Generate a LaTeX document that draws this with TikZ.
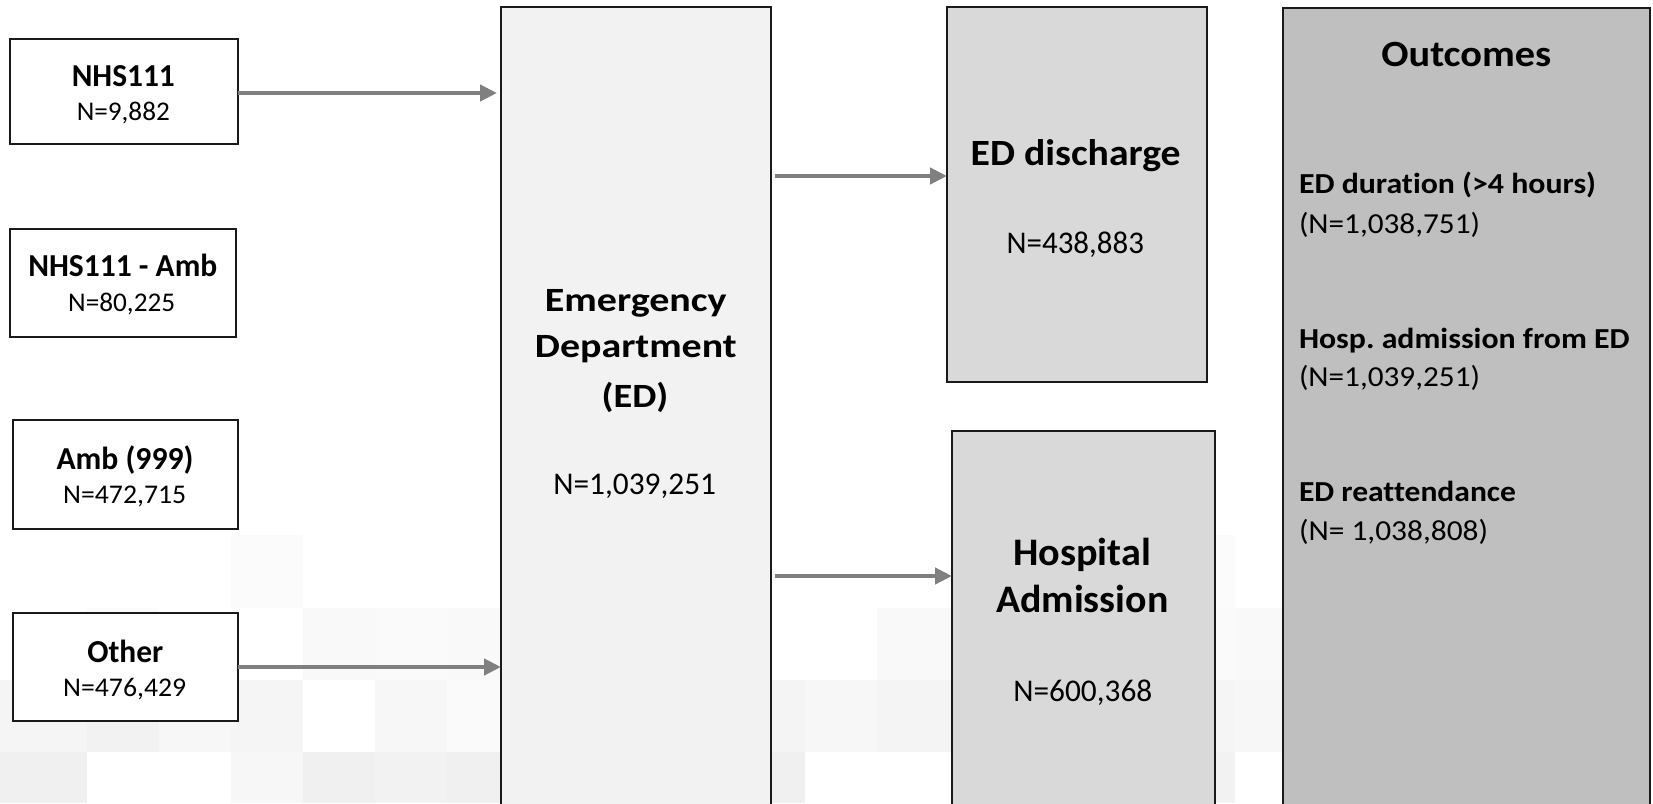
\documentclass[tikz,border=0pt]{standalone}
\usepackage{fontspec}
\setmainfont{Carlito}[Ligatures={NoCommon,NoRequired,NoContextual}]
\usepackage{graphicx}
\usetikzlibrary{arrows.meta}
\definecolor{edfill}{HTML}{F2F2F2}
\definecolor{midfill}{HTML}{D9D9D9}
\definecolor{outfill}{HTML}{BFBFBF}
\definecolor{arrgray}{HTML}{808080}
\definecolor{edgecol}{HTML}{1A1A1A}
\frenchspacing
\newcommand\txt[4]{\resizebox{#1pt}{\height}{\fontsize{#2}{#2}\selectfont #3#4}}
\tikzset{
  box/.style={draw=edgecol, line width=1.5pt, inner sep=0pt, outer sep=0pt, rectangle},
  lbl/.style={inner sep=0pt, outer sep=0pt, anchor=base},
  lbll/.style={inner sep=0pt, outer sep=0pt, anchor=base west},
  conn/.style={draw=arrgray, line width=4.8pt, -{Triangle[length=17pt,width=16pt]}},
}
\begin{document}
\begin{tikzpicture}[x=1pt,y=-1pt]
\useasboundingbox (0,0) rectangle (1653,803);
\clip (0,0) rectangle (1653,803);
\fill[white] (0,0) rectangle (1653,803);
% faint background squares
\foreach \xa/\xb/\ya/\yb/\s in {
  231/303/535/608/1.5, 1163/1235/535/608/1.5,
  87/159/608/680/1.5, 303/375/608/680/2.5, 375/447/608/680/2, 447/501/608/680/2.5,
  877/952/608/680/2.5, 1215/1235/608/680/2, 1235/1283/608/680/2.5,
  0/87/680/752/4, 87/159/680/752/5, 159/231/680/752/3, 231/303/680/752/4, 375/447/680/752/3, 447/501/680/752/2,
  771/805/680/752/4.5, 805/877/680/752/3, 877/952/680/752/4.5, 1215/1235/680/752/4, 1235/1283/680/752/3,
  0/87/752/803/6, 231/303/752/803/3, 303/375/752/803/6, 375/447/752/803/5, 447/501/752/803/6,
  771/805/752/803/6, 1215/1235/752/803/5}
  \fill[black!\s] (\xa,\ya) rectangle (\xb,\yb);

% boxes
\node[box, fill=white, minimum width=228pt, minimum height=105pt] (nhs) at (124,91.5) {};
\node[box, fill=white, minimum width=226pt, minimum height=108pt] (nhsamb) at (123,283) {};
\node[box, fill=white, minimum width=225pt, minimum height=109pt] (amb) at (125.5,474.5) {};
\node[box, fill=white, minimum width=225pt, minimum height=108pt] (oth) at (125.5,667) {};
\node[box, fill=edfill, minimum width=270pt, minimum height=813pt] (ed) at (636,413.5) {};
\node[box, fill=midfill, minimum width=260pt, minimum height=375pt] (dis) at (1077,194.5) {};
\node[box, fill=midfill, minimum width=263pt, minimum height=389pt] (hosp) at (1083.5,625.5) {};
\node[box, fill=outfill, minimum width=367pt, minimum height=812pt] (out) at (1466.5,414) {};

% connectors
\draw[conn, shorten >=4pt] (nhs.east |- 0,93) -- (ed.west |- 0,93);
\draw[conn] (oth.east |- 0,667) -- (ed.west |- 0,667);
\draw[conn] ([xshift=4pt]ed.east |- 0,176) -- (dis.west |- 0,176);
\draw[conn] ([xshift=4pt]ed.east |- 0,576) -- (hosp.west |- 0,576);

% left texts
\node[lbl] (t1a) at (123.3,86.7) {\txt{103}{32}{\bfseries}{NHS111}};
\node[lbl] (t1b) at (123.3,120) {\txt{93}{27}{}{N=9,882}};
\node[lbl] (t2a) at (122.8,276.7) {\txt{189}{32}{\bfseries}{NHS111 - Amb}};
\node[lbl] (t2b) at (121.7,311.7) {\txt{107}{27}{}{N=80,225}};
\node[lbl] (t3a) at (125,469) {\txt{137}{32}{\bfseries}{Amb (999)}};
\node[lbl] (t3b) at (124.7,503.3) {\txt{123}{27}{}{N=472,715}};
\node[lbl] (t4a) at (125.3,662) {\txt{76}{32}{\bfseries}{Other}};
\node[lbl] (t4b) at (124.7,696.7) {\txt{123}{27}{}{N=476,429}};

% ED texts
\node[lbl] (e1) at (635.8,311) {\txt{181.7}{34}{\bfseries}{Emergency}};
\node[lbl] (e2) at (635.8,357.8) {\txt{201.7}{34}{\bfseries}{Department}};
\node[lbl] (e3) at (635,407.8) {\txt{66.7}{34}{\bfseries}{(ED)}};
\node[lbl] (e4) at (634.7,494.5) {\txt{162.7}{31.6}{}{N=1,039,251}};

% discharge / admission texts
\node[lbl] (d1) at (1075.7,165) {\txt{210}{37}{\bfseries}{ED discharge}};
\node[lbl] (d2) at (1075.3,253.3) {\txt{137.3}{31.6}{}{N=438,883}};
\node[lbl] (h1) at (1082.2,565) {\txt{137.7}{39}{\bfseries}{Hospital}};
\node[lbl] (h2) at (1082.2,612.7) {\txt{172.3}{39}{\bfseries}{Admission}};
\node[lbl] (h3) at (1082.8,701.7) {\txt{139}{31.6}{}{N=600,368}};

% outcomes texts
\node[lbl] (o0) at (1466.3,66.7) {\txt{170}{37}{\bfseries}{Outcomes}};
\node[lbll] (o1) at (1299,193.3) {\txt{297}{29}{\bfseries}{ED duration (>4 hours)}};
\node[lbll] (o2) at (1299,233.3) {\txt{181}{29}{}{(N=1,038,751)}};
\node[lbll] (o3) at (1299,348.3) {\txt{330.7}{29}{\bfseries}{Hosp. admission from ED}};
\node[lbll] (o4) at (1299,386) {\txt{181}{29}{}{(N=1,039,251)}};
\node[lbll] (o5) at (1299,501) {\txt{217}{29}{\bfseries}{ED reattendance}};
\node[lbll] (o6) at (1299,540) {\txt{189}{29}{}{(N= 1,038,808)}};
\end{tikzpicture}
\end{document}
